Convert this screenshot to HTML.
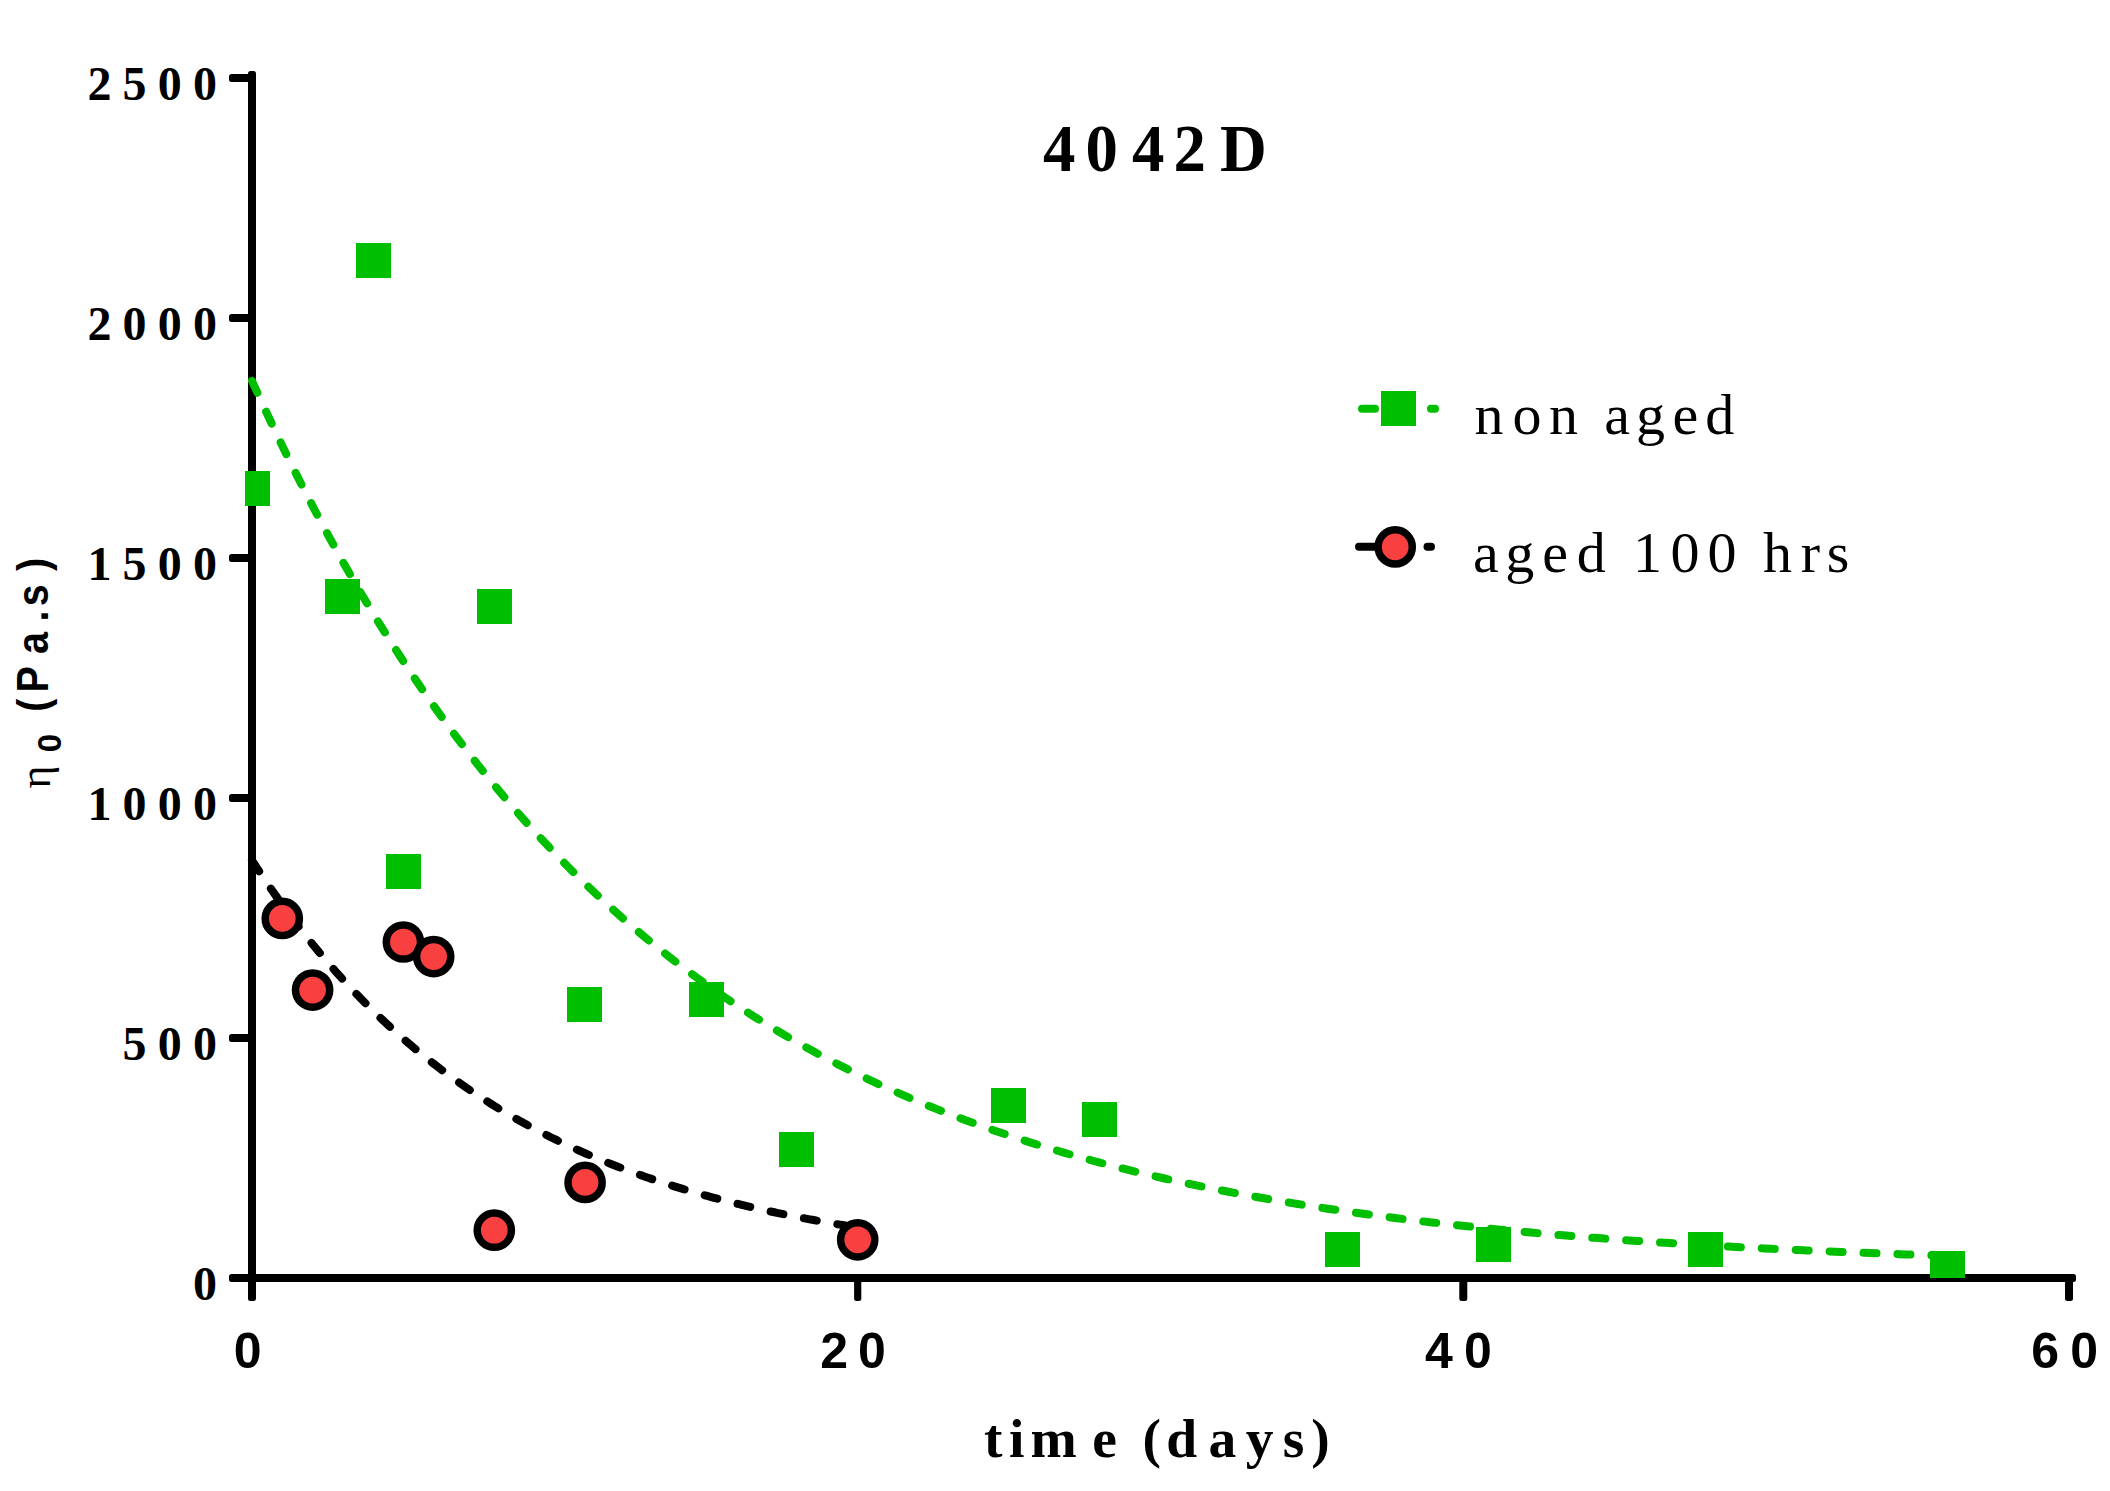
<!DOCTYPE html>
<html lang="en"><head><meta charset="utf-8"><title>4042D</title>
<style>html,body{margin:0;padding:0;background:#fff}body{width:2110px;height:1491px;overflow:hidden}svg{display:block}text{fill:#000}.sb{font-family:"Liberation Serif",serif;font-weight:bold}.sr{font-family:"Liberation Serif",serif;font-weight:normal}.ab{font-family:"Liberation Sans",sans-serif;font-weight:bold}</style></head><body>
<svg width="2110" height="1491" viewBox="0 0 2110 1491">
<rect width="2110" height="1491" fill="#fff"/>
<g fill="#000">
<rect x="248" y="71" width="8" height="1230" rx="2.5"/>
<rect x="229" y="1274" width="1847" height="8" rx="2.5"/>
<rect x="229" y="1034.0" width="23" height="8" rx="2.5"/>
<rect x="229" y="794.0" width="23" height="8" rx="2.5"/>
<rect x="229" y="554.0" width="23" height="8" rx="2.5"/>
<rect x="229" y="314.0" width="23" height="8" rx="2.5"/>
<rect x="229" y="74.0" width="23" height="8" rx="2.5"/>
<rect x="854.1" y="1278" width="7.2" height="23" rx="2.5"/>
<rect x="1459.3" y="1278" width="8" height="23" rx="2.5"/>
<rect x="2065.0" y="1278" width="8" height="23" rx="2.5"/>
</g>
<path d="M252.00 380.88L259.07 396.47L266.13 411.79L273.20 426.84L280.26 441.63L287.33 456.16L294.40 470.43L301.46 484.45L308.53 498.22L315.60 511.76L322.66 525.05L329.73 538.11L336.79 550.94L343.86 563.55L350.93 575.93L357.99 588.10L365.06 600.05L372.12 611.79L379.19 623.33L386.26 634.67L393.32 645.80L400.39 656.74L407.45 667.49L414.52 678.04L421.59 688.42L428.65 698.61L435.72 708.62L442.78 718.45L449.85 728.12L456.92 737.61L463.98 746.94L471.05 756.10L478.12 765.10L485.18 773.94L492.25 782.63L499.31 791.16L506.38 799.55L513.45 807.79L520.51 815.88L527.58 823.83L534.64 831.64L541.71 839.32L548.78 846.86L555.84 854.26L562.91 861.54L569.98 868.69L577.04 875.71L584.11 882.61L591.17 889.39L598.24 896.05L605.31 902.59L612.37 909.02L619.44 915.33L626.50 921.54L633.57 927.63L640.64 933.62L647.70 939.50L654.77 945.28L661.83 950.96L668.90 956.53L675.97 962.01L683.03 967.40L690.10 972.68L697.16 977.88L704.23 982.98L711.30 988.00L718.36 992.93L725.43 997.77L732.50 1002.52L739.56 1007.19L746.63 1011.78L753.69 1016.29L760.76 1020.72L767.83 1025.07L774.89 1029.35L781.96 1033.55L789.02 1037.67L796.09 1041.73L803.16 1045.71L810.22 1049.62L817.29 1053.47L824.36 1057.24L831.42 1060.95L838.49 1064.60L845.55 1068.18L852.62 1071.70L859.69 1075.15L866.75 1078.55L873.82 1081.88L880.88 1085.16L887.95 1088.38L895.02 1091.54L902.08 1094.65L909.15 1097.70L916.21 1100.70L923.28 1103.65L930.35 1106.54L937.41 1109.39L944.48 1112.18L951.55 1114.93L958.61 1117.62L965.68 1120.27L972.74 1122.88L979.81 1125.43L986.88 1127.94L993.94 1130.41L1001.01 1132.84L1008.07 1135.22L1015.14 1137.56L1022.21 1139.86L1029.27 1142.12L1036.34 1144.33L1043.40 1146.51L1050.47 1148.66L1057.54 1150.76L1064.60 1152.83L1071.67 1154.86L1078.74 1156.85L1085.80 1158.81L1092.87 1160.74L1099.93 1162.63L1107.00 1164.49L1114.07 1166.31L1121.13 1168.11L1128.20 1169.87L1135.26 1171.60L1142.33 1173.30L1149.40 1174.97L1156.46 1176.61L1163.53 1178.23L1170.59 1179.81L1177.66 1181.37L1184.73 1182.90L1191.79 1184.40L1198.86 1185.87L1205.93 1187.32L1212.99 1188.75L1220.06 1190.15L1227.12 1191.52L1234.19 1192.87L1241.26 1194.20L1248.32 1195.51L1255.39 1196.79L1262.45 1198.04L1269.52 1199.28L1276.59 1200.49L1283.65 1201.69L1290.72 1202.86L1297.78 1204.01L1304.85 1205.14L1311.92 1206.25L1318.98 1207.35L1326.05 1208.42L1333.12 1209.47L1340.18 1210.51L1347.25 1211.53L1354.31 1212.52L1361.38 1213.51L1368.45 1214.47L1375.51 1215.42L1382.58 1216.35L1389.64 1217.26L1396.71 1218.16L1403.78 1219.05L1410.84 1219.91L1417.91 1220.76L1424.97 1221.60L1432.04 1222.42L1439.11 1223.23L1446.17 1224.02L1453.24 1224.80L1460.31 1225.57L1467.37 1226.32L1474.44 1227.06L1481.50 1227.79L1488.57 1228.50L1495.64 1229.20L1502.70 1229.89L1509.77 1230.57L1516.83 1231.23L1523.90 1231.89L1530.97 1232.53L1538.03 1233.16L1545.10 1233.78L1552.16 1234.39L1559.23 1234.98L1566.30 1235.57L1573.36 1236.15L1580.43 1236.71L1587.50 1237.27L1594.56 1237.82L1601.63 1238.35L1608.69 1238.88L1615.76 1239.40L1622.83 1239.91L1629.89 1240.41L1636.96 1240.90L1644.02 1241.39L1651.09 1241.86L1658.16 1242.33L1665.22 1242.79L1672.29 1243.24L1679.35 1243.68L1686.42 1244.11L1693.49 1244.54L1700.55 1244.96L1707.62 1245.37L1714.68 1245.77L1721.75 1246.17L1728.82 1246.56L1735.88 1246.95L1742.95 1247.32L1750.02 1247.69L1757.08 1248.06L1764.15 1248.41L1771.21 1248.77L1778.28 1249.11L1785.35 1249.45L1792.41 1249.78L1799.48 1250.11L1806.54 1250.43L1813.61 1250.75L1820.68 1251.06L1827.74 1251.36L1834.81 1251.66L1841.88 1251.96L1848.94 1252.24L1856.01 1252.53L1863.07 1252.81L1870.14 1253.08L1877.21 1253.35L1884.27 1253.61L1891.34 1253.87L1898.40 1254.13L1905.47 1254.38L1912.54 1254.63L1919.60 1254.87L1926.67 1255.11L1933.73 1255.34L1940.80 1255.57L1947.87 1255.79" stroke="#00be00" stroke-width="8" stroke-linecap="round" stroke-linejoin="round" stroke-dasharray="13 20.955" fill="none"/>
<path d="M252.00 860.40L254.52 864.29L257.05 868.15L259.57 871.96L262.09 875.74L264.62 879.49L267.14 883.20L269.67 886.87L272.19 890.51L274.71 894.12L277.24 897.68L279.76 901.22L282.28 904.72L284.81 908.19L287.33 911.63L289.85 915.03L292.38 918.40L294.90 921.74L297.43 925.04L299.95 928.32L302.47 931.56L305.00 934.78L307.52 937.96L310.04 941.11L312.57 944.23L315.09 947.32L317.61 950.38L320.14 953.42L322.66 956.42L325.18 959.40L327.71 962.34L330.23 965.26L332.76 968.15L335.28 971.02L337.80 973.85L340.33 976.66L342.85 979.45L345.37 982.20L347.90 984.93L350.42 987.64L352.94 990.31L355.47 992.97L357.99 995.59L360.52 998.19L363.04 1000.77L365.56 1003.32L368.09 1005.85L370.61 1008.36L373.13 1010.84L375.66 1013.29L378.18 1015.73L380.70 1018.14L383.23 1020.52L385.75 1022.89L388.27 1025.23L390.80 1027.55L393.32 1029.84L395.85 1032.12L398.37 1034.37L400.89 1036.61L403.42 1038.82L405.94 1041.01L408.46 1043.17L410.99 1045.32L413.51 1047.45L416.03 1049.56L418.56 1051.65L421.08 1053.71L423.61 1055.76L426.13 1057.79L428.65 1059.80L431.18 1061.79L433.70 1063.76L436.22 1065.71L438.75 1067.64L441.27 1069.56L443.79 1071.45L446.32 1073.33L448.84 1075.19L451.37 1077.03L453.89 1078.86L456.41 1080.67L458.94 1082.46L461.46 1084.23L463.98 1085.99L466.51 1087.73L469.03 1089.45L471.55 1091.16L474.08 1092.85L476.60 1094.52L479.12 1096.18L481.65 1097.82L484.17 1099.45L486.70 1101.06L489.22 1102.66L491.74 1104.24L494.27 1105.80L496.79 1107.35L499.31 1108.89L501.84 1110.41L504.36 1111.92L506.88 1113.41L509.41 1114.89L511.93 1116.35L514.46 1117.80L516.98 1119.24L519.50 1120.66L522.03 1122.07L524.55 1123.47L527.07 1124.85L529.60 1126.22L532.12 1127.58L534.64 1128.92L537.17 1130.25L539.69 1131.57L542.22 1132.87L544.74 1134.16L547.26 1135.44L549.79 1136.71L552.31 1137.97L554.83 1139.21L557.36 1140.44L559.88 1141.66L562.40 1142.87L564.93 1144.07L567.45 1145.26L569.98 1146.43L572.50 1147.59L575.02 1148.75L577.55 1149.89L580.07 1151.02L582.59 1152.14L585.12 1153.25L587.64 1154.34L590.16 1155.43L592.69 1156.51L595.21 1157.58L597.73 1158.63L600.26 1159.68L602.78 1160.72L605.31 1161.74L607.83 1162.76L610.35 1163.77L612.88 1164.77L615.40 1165.76L617.92 1166.73L620.45 1167.70L622.97 1168.66L625.49 1169.62L628.02 1170.56L630.54 1171.49L633.07 1172.42L635.59 1173.33L638.11 1174.24L640.64 1175.14L643.16 1176.03L645.68 1176.91L648.21 1177.78L650.73 1178.64L653.25 1179.50L655.78 1180.35L658.30 1181.19L660.83 1182.02L663.35 1182.84L665.87 1183.66L668.40 1184.47L670.92 1185.27L673.44 1186.06L675.97 1186.85L678.49 1187.62L681.01 1188.39L683.54 1189.16L686.06 1189.91L688.58 1190.66L691.11 1191.40L693.63 1192.14L696.16 1192.86L698.68 1193.59L701.20 1194.30L703.73 1195.01L706.25 1195.71L708.77 1196.40L711.30 1197.09L713.82 1197.77L716.34 1198.44L718.87 1199.11L721.39 1199.77L723.92 1200.42L726.44 1201.07L728.96 1201.71L731.49 1202.35L734.01 1202.98L736.53 1203.60L739.06 1204.22L741.58 1204.83L744.10 1205.44L746.63 1206.04L749.15 1206.63L751.67 1207.22L754.20 1207.81L756.72 1208.38L759.25 1208.96L761.77 1209.52L764.29 1210.09L766.82 1210.64L769.34 1211.19L771.86 1211.74L774.39 1212.28L776.91 1212.81L779.43 1213.34L781.96 1213.87L784.48 1214.39L787.01 1214.90L789.53 1215.41L792.05 1215.92L794.58 1216.42L797.10 1216.92L799.62 1217.41L802.15 1217.89L804.67 1218.38L807.19 1218.85L809.72 1219.32L812.24 1219.79L814.77 1220.26L817.29 1220.72L819.81 1221.17L822.34 1221.62L824.86 1222.07L827.38 1222.51L829.91 1222.95L832.43 1223.38L834.95 1223.81L837.48 1224.23L840.00 1224.66L842.52 1225.07L845.05 1225.49L847.57 1225.90L850.10 1226.30L852.62 1226.70L855.14 1227.10L857.67 1227.49" stroke="#000" stroke-width="8" stroke-linecap="round" stroke-linejoin="round" stroke-dasharray="13 20.955" fill="none"/>
<clipPath id="cp"><rect x="245" y="0" width="1900" height="1278.0"/></clipPath>
<g fill="#00be00" clip-path="url(#cp)">
<rect x="235" y="471" width="35" height="35"/>
<rect x="325" y="579" width="35" height="35"/>
<rect x="356" y="243" width="35" height="35"/>
<rect x="386" y="854" width="35" height="35"/>
<rect x="477" y="589" width="35" height="35"/>
<rect x="567" y="987" width="35" height="35"/>
<rect x="689" y="982" width="35" height="35"/>
<rect x="779" y="1132" width="35" height="35"/>
<rect x="991" y="1088" width="35" height="35"/>
<rect x="1082" y="1102" width="35" height="35"/>
<rect x="1325" y="1232" width="35" height="35"/>
<rect x="1476" y="1227" width="35" height="35"/>
<rect x="1688" y="1232" width="35" height="35"/>
<rect x="1930" y="1251" width="35" height="35"/>
</g>
<g fill="#f84040" stroke="#000" stroke-width="7.5">
<circle cx="282.3" cy="918.4" r="17.1"/>
<circle cx="312.6" cy="990.1" r="17.1"/>
<circle cx="403.4" cy="942.0" r="17.1"/>
<circle cx="433.7" cy="956.6" r="17.1"/>
<circle cx="494.3" cy="1230.2" r="17.1"/>
<circle cx="585.1" cy="1182.4" r="17.1"/>
<circle cx="857.7" cy="1239.8" r="17.1"/>
</g>
<g stroke-width="8" stroke-linecap="round" fill="none">
<path d="M1362 408.8H1375M1431 408.8H1435" stroke="#00be00"/>
<path d="M1359 546.8H1375M1427.5 546.8H1431" stroke="#000"/>
</g>
<rect x="1381" y="391" width="35" height="35" fill="#00be00"/>
<circle cx="1395.2" cy="546.9" r="17.1" fill="#f84040" stroke="#000" stroke-width="7.5"/>
<text class="sb" font-size="48" y="1300.0" x="193.0">0</text>
<text class="sb" font-size="48" y="1060.0" x="122.6 157.8 193.0">500</text>
<text class="sb" font-size="48" y="820.0" x="87.4 122.6 157.8 193.0">1000</text>
<text class="sb" font-size="48" y="580.0" x="87.4 122.6 157.8 193.0">1500</text>
<text class="sb" font-size="48" y="340.0" x="87.4 122.6 157.8 193.0">2000</text>
<text class="sb" font-size="48" y="100.0" x="87.4 122.6 157.8 193.0">2500</text>
<text class="sb" font-size="67.5" y="170.7" x="1086.4 1130.7 1179.2 1222.5 1270.8" transform="scale(0.96 1)">4042D</text>
<text class="sr" font-size="58" y="434.3" x="1474.6 1512.5 1549.0 1576.6 1604.2 1635.9 1672.4 1705.3">non aged</text>
<text class="sr" font-size="58" y="572.3" x="1472.9 1505.3 1542.3 1576.7 1604.8 1632.9 1670.4 1707.6 1735.3 1762.9 1800.8 1826.8">aged 100 hrs</text>
<text class="sb" font-size="55.5" y="1457.3" x="984.1 1009.0 1030.5 1092.3 1117.3 1142.4 1166.3 1208.4 1245.8 1282.8 1311.2">time (days)</text>
<text class="ab" font-size="50" y="1367.5" x="233.8">0</text>
<text class="ab" font-size="50" y="1367.5" x="820.3 858.0">20</text>
<text class="ab" font-size="50" y="1367.5" x="1425.1 1464.1">40</text>
<text class="ab" font-size="50" y="1367.5" x="2031.2 2070.3">60</text>
<g transform="translate(47.6 0) rotate(-90)">
<text class="ab" font-size="44.3" y="0.0" x="-799.7 -778.2 -734.9 -698.4 -681.2 -641.5" transform="scale(0.89 1)">(Pa.s)</text>
<text class="ab" font-size="33" y="13.1" x="-752.2">0</text>
<text class="sr" font-size="44" y="2.2" x="-788.6">η</text>
</g>
</svg></body></html>
